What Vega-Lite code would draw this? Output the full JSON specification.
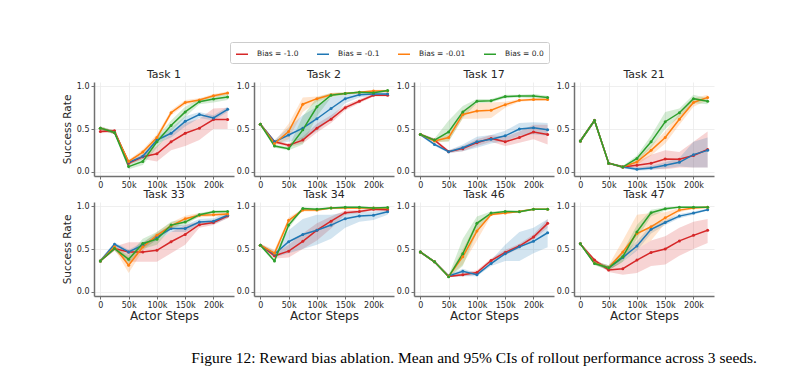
{
"$schema":"https://vega.github.io/schema/vega-lite/v6.json",
"background":"white",
"padding":{"left":62,"top":41,"right":5,"bottom":5},
"title":{"text":"Figure 12: Reward bias ablation. Mean and 95% CIs of rollout performance across 3 seeds.","orient":"bottom","font":"Liberation Serif","fontSize":15.5,"fontWeight":"normal","color":"black","offset":30,"anchor":"middle","dx":86},
"data":{"values":[
{"t":1,"b":"-1.0","x":0,"y":0.47,"lo":0.45,"hi":0.49},{"t":1,"b":"-1.0","x":25,"y":0.48,"lo":0.46,"hi":0.50},{"t":1,"b":"-1.0","x":50,"y":0.10,"lo":0.08,"hi":0.12},{"t":1,"b":"-1.0","x":75,"y":0.175,"lo":0.15,"hi":0.20},{"t":1,"b":"-1.0","x":100,"y":0.21,"lo":0.12,"hi":0.30},{"t":1,"b":"-1.0","x":125,"y":0.35,"lo":0.25,"hi":0.45},{"t":1,"b":"-1.0","x":150,"y":0.45,"lo":0.30,"hi":0.57},{"t":1,"b":"-1.0","x":175,"y":0.51,"lo":0.37,"hi":0.62},{"t":1,"b":"-1.0","x":200,"y":0.61,"lo":0.50,"hi":0.74},{"t":1,"b":"-1.0","x":225,"y":0.61,"lo":0.50,"hi":0.75},
{"t":1,"b":"-0.1","x":0,"y":0.51,"lo":0.49,"hi":0.53},{"t":1,"b":"-0.1","x":25,"y":0.46,"lo":0.44,"hi":0.48},{"t":1,"b":"-0.1","x":50,"y":0.11,"lo":0.09,"hi":0.13},{"t":1,"b":"-0.1","x":75,"y":0.18,"lo":0.15,"hi":0.21},{"t":1,"b":"-0.1","x":100,"y":0.37,"lo":0.33,"hi":0.41},{"t":1,"b":"-0.1","x":125,"y":0.45,"lo":0.40,"hi":0.51},{"t":1,"b":"-0.1","x":150,"y":0.59,"lo":0.53,"hi":0.65},{"t":1,"b":"-0.1","x":175,"y":0.67,"lo":0.63,"hi":0.70},{"t":1,"b":"-0.1","x":200,"y":0.63,"lo":0.60,"hi":0.66},{"t":1,"b":"-0.1","x":225,"y":0.73,"lo":0.70,"hi":0.76},
{"t":1,"b":"-0.01","x":0,"y":0.51,"lo":0.49,"hi":0.53},{"t":1,"b":"-0.01","x":25,"y":0.46,"lo":0.44,"hi":0.48},{"t":1,"b":"-0.01","x":50,"y":0.12,"lo":0.10,"hi":0.14},{"t":1,"b":"-0.01","x":75,"y":0.23,"lo":0.20,"hi":0.26},{"t":1,"b":"-0.01","x":100,"y":0.40,"lo":0.36,"hi":0.44},{"t":1,"b":"-0.01","x":125,"y":0.69,"lo":0.66,"hi":0.72},{"t":1,"b":"-0.01","x":150,"y":0.81,"lo":0.78,"hi":0.84},{"t":1,"b":"-0.01","x":175,"y":0.84,"lo":0.82,"hi":0.86},{"t":1,"b":"-0.01","x":200,"y":0.89,"lo":0.87,"hi":0.91},{"t":1,"b":"-0.01","x":225,"y":0.92,"lo":0.90,"hi":0.94},
{"t":1,"b":"0.0","x":0,"y":0.51,"lo":0.49,"hi":0.53},{"t":1,"b":"0.0","x":25,"y":0.46,"lo":0.44,"hi":0.48},{"t":1,"b":"0.0","x":50,"y":0.06,"lo":0.03,"hi":0.09},{"t":1,"b":"0.0","x":75,"y":0.12,"lo":0.08,"hi":0.16},{"t":1,"b":"0.0","x":100,"y":0.35,"lo":0.28,"hi":0.41},{"t":1,"b":"0.0","x":125,"y":0.54,"lo":0.47,"hi":0.60},{"t":1,"b":"0.0","x":150,"y":0.70,"lo":0.64,"hi":0.76},{"t":1,"b":"0.0","x":175,"y":0.82,"lo":0.79,"hi":0.85},{"t":1,"b":"0.0","x":200,"y":0.85,"lo":0.81,"hi":0.89},{"t":1,"b":"0.0","x":225,"y":0.875,"lo":0.84,"hi":0.91},

{"t":2,"b":"-1.0","x":0,"y":0.556,"lo":0.54,"hi":0.57},{"t":2,"b":"-1.0","x":25,"y":0.35,"lo":0.33,"hi":0.37},{"t":2,"b":"-1.0","x":50,"y":0.31,"lo":0.29,"hi":0.33},{"t":2,"b":"-1.0","x":75,"y":0.37,"lo":0.33,"hi":0.41},{"t":2,"b":"-1.0","x":100,"y":0.51,"lo":0.46,"hi":0.56},{"t":2,"b":"-1.0","x":125,"y":0.615,"lo":0.57,"hi":0.66},{"t":2,"b":"-1.0","x":150,"y":0.75,"lo":0.72,"hi":0.78},{"t":2,"b":"-1.0","x":175,"y":0.825,"lo":0.80,"hi":0.85},{"t":2,"b":"-1.0","x":200,"y":0.895,"lo":0.88,"hi":0.91},{"t":2,"b":"-1.0","x":225,"y":0.895,"lo":0.88,"hi":0.91},
{"t":2,"b":"-0.1","x":0,"y":0.556,"lo":0.54,"hi":0.57},{"t":2,"b":"-0.1","x":25,"y":0.35,"lo":0.33,"hi":0.37},{"t":2,"b":"-0.1","x":50,"y":0.43,"lo":0.35,"hi":0.52},{"t":2,"b":"-0.1","x":75,"y":0.51,"lo":0.38,"hi":0.66},{"t":2,"b":"-0.1","x":100,"y":0.62,"lo":0.48,"hi":0.76},{"t":2,"b":"-0.1","x":125,"y":0.74,"lo":0.62,"hi":0.87},{"t":2,"b":"-0.1","x":150,"y":0.855,"lo":0.80,"hi":0.90},{"t":2,"b":"-0.1","x":175,"y":0.90,"lo":0.87,"hi":0.93},{"t":2,"b":"-0.1","x":200,"y":0.91,"lo":0.89,"hi":0.93},{"t":2,"b":"-0.1","x":225,"y":0.91,"lo":0.89,"hi":0.93},
{"t":2,"b":"-0.01","x":0,"y":0.556,"lo":0.54,"hi":0.57},{"t":2,"b":"-0.01","x":25,"y":0.33,"lo":0.31,"hi":0.35},{"t":2,"b":"-0.01","x":50,"y":0.47,"lo":0.38,"hi":0.56},{"t":2,"b":"-0.01","x":75,"y":0.79,"lo":0.70,"hi":0.87},{"t":2,"b":"-0.01","x":100,"y":0.855,"lo":0.82,"hi":0.88},{"t":2,"b":"-0.01","x":125,"y":0.90,"lo":0.88,"hi":0.92},{"t":2,"b":"-0.01","x":150,"y":0.915,"lo":0.90,"hi":0.93},{"t":2,"b":"-0.01","x":175,"y":0.93,"lo":0.92,"hi":0.94},{"t":2,"b":"-0.01","x":200,"y":0.945,"lo":0.93,"hi":0.96},{"t":2,"b":"-0.01","x":225,"y":0.945,"lo":0.93,"hi":0.96},
{"t":2,"b":"0.0","x":0,"y":0.556,"lo":0.54,"hi":0.57},{"t":2,"b":"0.0","x":25,"y":0.30,"lo":0.28,"hi":0.32},{"t":2,"b":"0.0","x":50,"y":0.27,"lo":0.25,"hi":0.29},{"t":2,"b":"0.0","x":75,"y":0.49,"lo":0.32,"hi":0.65},{"t":2,"b":"0.0","x":100,"y":0.76,"lo":0.65,"hi":0.87},{"t":2,"b":"0.0","x":125,"y":0.895,"lo":0.87,"hi":0.92},{"t":2,"b":"0.0","x":150,"y":0.915,"lo":0.90,"hi":0.93},{"t":2,"b":"0.0","x":175,"y":0.93,"lo":0.92,"hi":0.94},{"t":2,"b":"0.0","x":200,"y":0.925,"lo":0.91,"hi":0.94},{"t":2,"b":"0.0","x":225,"y":0.95,"lo":0.94,"hi":0.96},

{"t":17,"b":"-1.0","x":0,"y":0.435,"lo":0.42,"hi":0.45},{"t":17,"b":"-1.0","x":25,"y":0.37,"lo":0.35,"hi":0.39},{"t":17,"b":"-1.0","x":50,"y":0.235,"lo":0.22,"hi":0.25},{"t":17,"b":"-1.0","x":75,"y":0.27,"lo":0.24,"hi":0.30},{"t":17,"b":"-1.0","x":100,"y":0.34,"lo":0.30,"hi":0.38},{"t":17,"b":"-1.0","x":125,"y":0.39,"lo":0.35,"hi":0.43},{"t":17,"b":"-1.0","x":150,"y":0.35,"lo":0.30,"hi":0.41},{"t":17,"b":"-1.0","x":175,"y":0.40,"lo":0.34,"hi":0.47},{"t":17,"b":"-1.0","x":200,"y":0.465,"lo":0.38,"hi":0.55},{"t":17,"b":"-1.0","x":225,"y":0.435,"lo":0.32,"hi":0.55},
{"t":17,"b":"-0.1","x":0,"y":0.435,"lo":0.42,"hi":0.45},{"t":17,"b":"-0.1","x":25,"y":0.32,"lo":0.30,"hi":0.34},{"t":17,"b":"-0.1","x":50,"y":0.235,"lo":0.22,"hi":0.25},{"t":17,"b":"-0.1","x":75,"y":0.28,"lo":0.24,"hi":0.32},{"t":17,"b":"-0.1","x":100,"y":0.35,"lo":0.28,"hi":0.41},{"t":17,"b":"-0.1","x":125,"y":0.38,"lo":0.33,"hi":0.43},{"t":17,"b":"-0.1","x":150,"y":0.42,"lo":0.36,"hi":0.48},{"t":17,"b":"-0.1","x":175,"y":0.50,"lo":0.42,"hi":0.57},{"t":17,"b":"-0.1","x":200,"y":0.515,"lo":0.44,"hi":0.58},{"t":17,"b":"-0.1","x":225,"y":0.49,"lo":0.42,"hi":0.57},
{"t":17,"b":"-0.01","x":0,"y":0.435,"lo":0.42,"hi":0.45},{"t":17,"b":"-0.01","x":25,"y":0.36,"lo":0.34,"hi":0.38},{"t":17,"b":"-0.01","x":50,"y":0.40,"lo":0.36,"hi":0.44},{"t":17,"b":"-0.01","x":75,"y":0.67,"lo":0.62,"hi":0.72},{"t":17,"b":"-0.01","x":100,"y":0.71,"lo":0.62,"hi":0.80},{"t":17,"b":"-0.01","x":125,"y":0.72,"lo":0.63,"hi":0.81},{"t":17,"b":"-0.01","x":150,"y":0.785,"lo":0.75,"hi":0.82},{"t":17,"b":"-0.01","x":175,"y":0.835,"lo":0.82,"hi":0.85},{"t":17,"b":"-0.01","x":200,"y":0.845,"lo":0.83,"hi":0.86},{"t":17,"b":"-0.01","x":225,"y":0.845,"lo":0.83,"hi":0.86},
{"t":17,"b":"0.0","x":0,"y":0.435,"lo":0.42,"hi":0.45},{"t":17,"b":"0.0","x":25,"y":0.37,"lo":0.35,"hi":0.39},{"t":17,"b":"0.0","x":50,"y":0.465,"lo":0.35,"hi":0.60},{"t":17,"b":"0.0","x":75,"y":0.70,"lo":0.63,"hi":0.77},{"t":17,"b":"0.0","x":100,"y":0.825,"lo":0.80,"hi":0.85},{"t":17,"b":"0.0","x":125,"y":0.83,"lo":0.81,"hi":0.85},{"t":17,"b":"0.0","x":150,"y":0.88,"lo":0.86,"hi":0.90},{"t":17,"b":"0.0","x":175,"y":0.885,"lo":0.87,"hi":0.90},{"t":17,"b":"0.0","x":200,"y":0.885,"lo":0.86,"hi":0.91},{"t":17,"b":"0.0","x":225,"y":0.87,"lo":0.85,"hi":0.89},

{"t":21,"b":"-1.0","x":0,"y":0.36,"lo":0.34,"hi":0.38},{"t":21,"b":"-1.0","x":25,"y":0.60,"lo":0.58,"hi":0.62},{"t":21,"b":"-1.0","x":50,"y":0.10,"lo":0.09,"hi":0.11},{"t":21,"b":"-1.0","x":75,"y":0.055,"lo":0.04,"hi":0.07},{"t":21,"b":"-1.0","x":100,"y":0.075,"lo":0.03,"hi":0.12},{"t":21,"b":"-1.0","x":125,"y":0.10,"lo":0.03,"hi":0.20},{"t":21,"b":"-1.0","x":150,"y":0.15,"lo":0.03,"hi":0.25},{"t":21,"b":"-1.0","x":175,"y":0.145,"lo":0.05,"hi":0.23},{"t":21,"b":"-1.0","x":200,"y":0.19,"lo":0.05,"hi":0.35},{"t":21,"b":"-1.0","x":225,"y":0.26,"lo":0.05,"hi":0.47},
{"t":21,"b":"-0.1","x":0,"y":0.36,"lo":0.34,"hi":0.38},{"t":21,"b":"-0.1","x":25,"y":0.60,"lo":0.58,"hi":0.62},{"t":21,"b":"-0.1","x":50,"y":0.10,"lo":0.09,"hi":0.11},{"t":21,"b":"-0.1","x":75,"y":0.055,"lo":0.04,"hi":0.07},{"t":21,"b":"-0.1","x":100,"y":0.03,"lo":0.01,"hi":0.05},{"t":21,"b":"-0.1","x":125,"y":0.045,"lo":0.02,"hi":0.07},{"t":21,"b":"-0.1","x":150,"y":0.075,"lo":0.04,"hi":0.11},{"t":21,"b":"-0.1","x":175,"y":0.11,"lo":0.06,"hi":0.16},{"t":21,"b":"-0.1","x":200,"y":0.20,"lo":0.05,"hi":0.35},{"t":21,"b":"-0.1","x":225,"y":0.25,"lo":0.05,"hi":0.40},
{"t":21,"b":"-0.01","x":0,"y":0.36,"lo":0.34,"hi":0.38},{"t":21,"b":"-0.01","x":25,"y":0.60,"lo":0.58,"hi":0.62},{"t":21,"b":"-0.01","x":50,"y":0.10,"lo":0.09,"hi":0.11},{"t":21,"b":"-0.01","x":75,"y":0.055,"lo":0.04,"hi":0.07},{"t":21,"b":"-0.01","x":100,"y":0.115,"lo":0.08,"hi":0.15},{"t":21,"b":"-0.01","x":125,"y":0.25,"lo":0.19,"hi":0.31},{"t":21,"b":"-0.01","x":150,"y":0.40,"lo":0.33,"hi":0.47},{"t":21,"b":"-0.01","x":175,"y":0.615,"lo":0.55,"hi":0.68},{"t":21,"b":"-0.01","x":200,"y":0.81,"lo":0.76,"hi":0.86},{"t":21,"b":"-0.01","x":225,"y":0.87,"lo":0.84,"hi":0.90},
{"t":21,"b":"0.0","x":0,"y":0.36,"lo":0.34,"hi":0.38},{"t":21,"b":"0.0","x":25,"y":0.60,"lo":0.58,"hi":0.62},{"t":21,"b":"0.0","x":50,"y":0.10,"lo":0.09,"hi":0.11},{"t":21,"b":"0.0","x":75,"y":0.055,"lo":0.04,"hi":0.07},{"t":21,"b":"0.0","x":100,"y":0.155,"lo":0.12,"hi":0.19},{"t":21,"b":"0.0","x":125,"y":0.35,"lo":0.28,"hi":0.42},{"t":21,"b":"0.0","x":150,"y":0.585,"lo":0.50,"hi":0.70},{"t":21,"b":"0.0","x":175,"y":0.69,"lo":0.64,"hi":0.74},{"t":21,"b":"0.0","x":200,"y":0.855,"lo":0.80,"hi":0.90},{"t":21,"b":"0.0","x":225,"y":0.825,"lo":0.79,"hi":0.86},

{"t":33,"b":"-1.0","x":0,"y":0.36,"lo":0.35,"hi":0.38},{"t":33,"b":"-1.0","x":25,"y":0.505,"lo":0.48,"hi":0.53},{"t":33,"b":"-1.0","x":50,"y":0.465,"lo":0.35,"hi":0.58},{"t":33,"b":"-1.0","x":75,"y":0.465,"lo":0.35,"hi":0.58},{"t":33,"b":"-1.0","x":100,"y":0.485,"lo":0.35,"hi":0.60},{"t":33,"b":"-1.0","x":125,"y":0.585,"lo":0.45,"hi":0.70},{"t":33,"b":"-1.0","x":150,"y":0.67,"lo":0.55,"hi":0.78},{"t":33,"b":"-1.0","x":175,"y":0.785,"lo":0.75,"hi":0.82},{"t":33,"b":"-1.0","x":200,"y":0.81,"lo":0.78,"hi":0.84},{"t":33,"b":"-1.0","x":225,"y":0.885,"lo":0.86,"hi":0.91},
{"t":33,"b":"-0.1","x":0,"y":0.36,"lo":0.35,"hi":0.38},{"t":33,"b":"-0.1","x":25,"y":0.555,"lo":0.53,"hi":0.58},{"t":33,"b":"-0.1","x":50,"y":0.465,"lo":0.44,"hi":0.49},{"t":33,"b":"-0.1","x":75,"y":0.545,"lo":0.51,"hi":0.58},{"t":33,"b":"-0.1","x":100,"y":0.64,"lo":0.60,"hi":0.68},{"t":33,"b":"-0.1","x":125,"y":0.74,"lo":0.70,"hi":0.78},{"t":33,"b":"-0.1","x":150,"y":0.74,"lo":0.70,"hi":0.78},{"t":33,"b":"-0.1","x":175,"y":0.815,"lo":0.78,"hi":0.85},{"t":33,"b":"-0.1","x":200,"y":0.825,"lo":0.79,"hi":0.86},{"t":33,"b":"-0.1","x":225,"y":0.895,"lo":0.86,"hi":0.93},
{"t":33,"b":"-0.01","x":0,"y":0.36,"lo":0.35,"hi":0.38},{"t":33,"b":"-0.01","x":25,"y":0.525,"lo":0.50,"hi":0.55},{"t":33,"b":"-0.01","x":50,"y":0.31,"lo":0.22,"hi":0.40},{"t":33,"b":"-0.01","x":75,"y":0.525,"lo":0.48,"hi":0.57},{"t":33,"b":"-0.01","x":100,"y":0.66,"lo":0.62,"hi":0.70},{"t":33,"b":"-0.01","x":125,"y":0.77,"lo":0.73,"hi":0.81},{"t":33,"b":"-0.01","x":150,"y":0.855,"lo":0.82,"hi":0.89},{"t":33,"b":"-0.01","x":175,"y":0.895,"lo":0.87,"hi":0.92},{"t":33,"b":"-0.01","x":200,"y":0.90,"lo":0.88,"hi":0.92},{"t":33,"b":"-0.01","x":225,"y":0.91,"lo":0.89,"hi":0.93},
{"t":33,"b":"0.0","x":0,"y":0.36,"lo":0.35,"hi":0.38},{"t":33,"b":"0.0","x":25,"y":0.505,"lo":0.48,"hi":0.53},{"t":33,"b":"0.0","x":50,"y":0.38,"lo":0.33,"hi":0.43},{"t":33,"b":"0.0","x":75,"y":0.565,"lo":0.50,"hi":0.62},{"t":33,"b":"0.0","x":100,"y":0.615,"lo":0.55,"hi":0.70},{"t":33,"b":"0.0","x":125,"y":0.78,"lo":0.74,"hi":0.82},{"t":33,"b":"0.0","x":150,"y":0.815,"lo":0.78,"hi":0.85},{"t":33,"b":"0.0","x":175,"y":0.90,"lo":0.88,"hi":0.92},{"t":33,"b":"0.0","x":200,"y":0.935,"lo":0.92,"hi":0.95},{"t":33,"b":"0.0","x":225,"y":0.94,"lo":0.93,"hi":0.95},

{"t":34,"b":"-1.0","x":0,"y":0.545,"lo":0.53,"hi":0.56},{"t":34,"b":"-1.0","x":25,"y":0.42,"lo":0.39,"hi":0.45},{"t":34,"b":"-1.0","x":50,"y":0.475,"lo":0.40,"hi":0.55},{"t":34,"b":"-1.0","x":75,"y":0.59,"lo":0.50,"hi":0.68},{"t":34,"b":"-1.0","x":100,"y":0.72,"lo":0.60,"hi":0.80},{"t":34,"b":"-1.0","x":125,"y":0.825,"lo":0.74,"hi":0.88},{"t":34,"b":"-1.0","x":150,"y":0.925,"lo":0.90,"hi":0.95},{"t":34,"b":"-1.0","x":175,"y":0.94,"lo":0.92,"hi":0.96},{"t":34,"b":"-1.0","x":200,"y":0.965,"lo":0.95,"hi":0.98},{"t":34,"b":"-1.0","x":225,"y":0.96,"lo":0.94,"hi":0.98},
{"t":34,"b":"-0.1","x":0,"y":0.545,"lo":0.53,"hi":0.56},{"t":34,"b":"-0.1","x":25,"y":0.44,"lo":0.40,"hi":0.48},{"t":34,"b":"-0.1","x":50,"y":0.585,"lo":0.45,"hi":0.72},{"t":34,"b":"-0.1","x":75,"y":0.67,"lo":0.50,"hi":0.85},{"t":34,"b":"-0.1","x":100,"y":0.72,"lo":0.55,"hi":0.90},{"t":34,"b":"-0.1","x":125,"y":0.78,"lo":0.62,"hi":0.90},{"t":34,"b":"-0.1","x":150,"y":0.855,"lo":0.75,"hi":0.93},{"t":34,"b":"-0.1","x":175,"y":0.885,"lo":0.82,"hi":0.94},{"t":34,"b":"-0.1","x":200,"y":0.895,"lo":0.84,"hi":0.94},{"t":34,"b":"-0.1","x":225,"y":0.935,"lo":0.90,"hi":0.96},
{"t":34,"b":"-0.01","x":0,"y":0.545,"lo":0.53,"hi":0.56},{"t":34,"b":"-0.01","x":25,"y":0.45,"lo":0.41,"hi":0.49},{"t":34,"b":"-0.01","x":50,"y":0.835,"lo":0.80,"hi":0.87},{"t":34,"b":"-0.01","x":75,"y":0.955,"lo":0.94,"hi":0.97},{"t":34,"b":"-0.01","x":100,"y":0.955,"lo":0.94,"hi":0.97},{"t":34,"b":"-0.01","x":125,"y":0.98,"lo":0.97,"hi":0.99},{"t":34,"b":"-0.01","x":150,"y":0.98,"lo":0.97,"hi":0.99},{"t":34,"b":"-0.01","x":175,"y":0.98,"lo":0.97,"hi":0.99},{"t":34,"b":"-0.01","x":200,"y":0.98,"lo":0.97,"hi":0.99},{"t":34,"b":"-0.01","x":225,"y":0.98,"lo":0.97,"hi":0.99},
{"t":34,"b":"0.0","x":0,"y":0.545,"lo":0.53,"hi":0.56},{"t":34,"b":"0.0","x":25,"y":0.36,"lo":0.34,"hi":0.38},{"t":34,"b":"0.0","x":50,"y":0.78,"lo":0.74,"hi":0.82},{"t":34,"b":"0.0","x":75,"y":0.975,"lo":0.96,"hi":0.99},{"t":34,"b":"0.0","x":100,"y":0.965,"lo":0.95,"hi":0.98},{"t":34,"b":"0.0","x":125,"y":0.98,"lo":0.97,"hi":0.99},{"t":34,"b":"0.0","x":150,"y":0.99,"lo":0.98,"hi":1.0},{"t":34,"b":"0.0","x":175,"y":0.99,"lo":0.98,"hi":1.0},{"t":34,"b":"0.0","x":200,"y":0.98,"lo":0.97,"hi":0.99},{"t":34,"b":"0.0","x":225,"y":0.985,"lo":0.975,"hi":0.995},

{"t":46,"b":"-1.0","x":0,"y":0.465,"lo":0.45,"hi":0.48},{"t":46,"b":"-1.0","x":25,"y":0.35,"lo":0.34,"hi":0.36},{"t":46,"b":"-1.0","x":50,"y":0.18,"lo":0.17,"hi":0.19},{"t":46,"b":"-1.0","x":75,"y":0.20,"lo":0.18,"hi":0.22},{"t":46,"b":"-1.0","x":100,"y":0.225,"lo":0.20,"hi":0.25},{"t":46,"b":"-1.0","x":125,"y":0.365,"lo":0.34,"hi":0.39},{"t":46,"b":"-1.0","x":150,"y":0.46,"lo":0.43,"hi":0.49},{"t":46,"b":"-1.0","x":175,"y":0.535,"lo":0.51,"hi":0.56},{"t":46,"b":"-1.0","x":200,"y":0.64,"lo":0.61,"hi":0.67},{"t":46,"b":"-1.0","x":225,"y":0.80,"lo":0.75,"hi":0.85},
{"t":46,"b":"-0.1","x":0,"y":0.465,"lo":0.45,"hi":0.48},{"t":46,"b":"-0.1","x":25,"y":0.35,"lo":0.34,"hi":0.36},{"t":46,"b":"-0.1","x":50,"y":0.185,"lo":0.17,"hi":0.20},{"t":46,"b":"-0.1","x":75,"y":0.24,"lo":0.18,"hi":0.27},{"t":46,"b":"-0.1","x":100,"y":0.20,"lo":0.18,"hi":0.22},{"t":46,"b":"-0.1","x":125,"y":0.33,"lo":0.30,"hi":0.37},{"t":46,"b":"-0.1","x":150,"y":0.445,"lo":0.36,"hi":0.55},{"t":46,"b":"-0.1","x":175,"y":0.525,"lo":0.36,"hi":0.70},{"t":46,"b":"-0.1","x":200,"y":0.59,"lo":0.45,"hi":0.75},{"t":46,"b":"-0.1","x":225,"y":0.69,"lo":0.52,"hi":0.85},
{"t":46,"b":"-0.01","x":0,"y":0.465,"lo":0.45,"hi":0.48},{"t":46,"b":"-0.01","x":25,"y":0.35,"lo":0.34,"hi":0.36},{"t":46,"b":"-0.01","x":50,"y":0.18,"lo":0.17,"hi":0.19},{"t":46,"b":"-0.01","x":75,"y":0.41,"lo":0.32,"hi":0.50},{"t":46,"b":"-0.01","x":100,"y":0.71,"lo":0.60,"hi":0.82},{"t":46,"b":"-0.01","x":125,"y":0.905,"lo":0.89,"hi":0.92},{"t":46,"b":"-0.01","x":150,"y":0.92,"lo":0.91,"hi":0.93},{"t":46,"b":"-0.01","x":175,"y":0.94,"lo":0.93,"hi":0.95},{"t":46,"b":"-0.01","x":200,"y":0.965,"lo":0.955,"hi":0.975},{"t":46,"b":"-0.01","x":225,"y":0.965,"lo":0.955,"hi":0.975},
{"t":46,"b":"0.0","x":0,"y":0.465,"lo":0.45,"hi":0.48},{"t":46,"b":"0.0","x":25,"y":0.35,"lo":0.34,"hi":0.36},{"t":46,"b":"0.0","x":50,"y":0.175,"lo":0.16,"hi":0.19},{"t":46,"b":"0.0","x":75,"y":0.445,"lo":0.30,"hi":0.62},{"t":46,"b":"0.0","x":100,"y":0.80,"lo":0.70,"hi":0.88},{"t":46,"b":"0.0","x":125,"y":0.92,"lo":0.90,"hi":0.94},{"t":46,"b":"0.0","x":150,"y":0.94,"lo":0.93,"hi":0.95},{"t":46,"b":"0.0","x":175,"y":0.935,"lo":0.92,"hi":0.95},{"t":46,"b":"0.0","x":200,"y":0.965,"lo":0.955,"hi":0.975},{"t":46,"b":"0.0","x":225,"y":0.965,"lo":0.955,"hi":0.975},

{"t":47,"b":"-1.0","x":0,"y":0.56,"lo":0.55,"hi":0.57},{"t":47,"b":"-1.0","x":25,"y":0.37,"lo":0.35,"hi":0.39},{"t":47,"b":"-1.0","x":50,"y":0.255,"lo":0.23,"hi":0.28},{"t":47,"b":"-1.0","x":75,"y":0.27,"lo":0.20,"hi":0.35},{"t":47,"b":"-1.0","x":100,"y":0.37,"lo":0.22,"hi":0.50},{"t":47,"b":"-1.0","x":125,"y":0.46,"lo":0.30,"hi":0.60},{"t":47,"b":"-1.0","x":150,"y":0.50,"lo":0.32,"hi":0.65},{"t":47,"b":"-1.0","x":175,"y":0.595,"lo":0.42,"hi":0.75},{"t":47,"b":"-1.0","x":200,"y":0.66,"lo":0.50,"hi":0.82},{"t":47,"b":"-1.0","x":225,"y":0.72,"lo":0.57,"hi":0.85},
{"t":47,"b":"-0.1","x":0,"y":0.56,"lo":0.55,"hi":0.57},{"t":47,"b":"-0.1","x":25,"y":0.34,"lo":0.32,"hi":0.36},{"t":47,"b":"-0.1","x":50,"y":0.28,"lo":0.25,"hi":0.31},{"t":47,"b":"-0.1","x":75,"y":0.40,"lo":0.35,"hi":0.45},{"t":47,"b":"-0.1","x":100,"y":0.535,"lo":0.48,"hi":0.59},{"t":47,"b":"-0.1","x":125,"y":0.73,"lo":0.68,"hi":0.78},{"t":47,"b":"-0.1","x":150,"y":0.81,"lo":0.78,"hi":0.84},{"t":47,"b":"-0.1","x":175,"y":0.885,"lo":0.86,"hi":0.91},{"t":47,"b":"-0.1","x":200,"y":0.92,"lo":0.90,"hi":0.94},{"t":47,"b":"-0.1","x":225,"y":0.96,"lo":0.95,"hi":0.97},
{"t":47,"b":"-0.01","x":0,"y":0.56,"lo":0.55,"hi":0.57},{"t":47,"b":"-0.01","x":25,"y":0.34,"lo":0.32,"hi":0.36},{"t":47,"b":"-0.01","x":50,"y":0.28,"lo":0.25,"hi":0.31},{"t":47,"b":"-0.01","x":75,"y":0.465,"lo":0.35,"hi":0.60},{"t":47,"b":"-0.01","x":100,"y":0.68,"lo":0.50,"hi":0.90},{"t":47,"b":"-0.01","x":125,"y":0.76,"lo":0.60,"hi":0.92},{"t":47,"b":"-0.01","x":150,"y":0.865,"lo":0.80,"hi":0.93},{"t":47,"b":"-0.01","x":175,"y":0.955,"lo":0.93,"hi":0.98},{"t":47,"b":"-0.01","x":200,"y":0.98,"lo":0.97,"hi":0.99},{"t":47,"b":"-0.01","x":225,"y":0.99,"lo":0.98,"hi":1.0},
{"t":47,"b":"0.0","x":0,"y":0.56,"lo":0.55,"hi":0.57},{"t":47,"b":"0.0","x":25,"y":0.33,"lo":0.31,"hi":0.35},{"t":47,"b":"0.0","x":50,"y":0.28,"lo":0.25,"hi":0.31},{"t":47,"b":"0.0","x":75,"y":0.41,"lo":0.35,"hi":0.47},{"t":47,"b":"0.0","x":100,"y":0.70,"lo":0.62,"hi":0.78},{"t":47,"b":"0.0","x":125,"y":0.925,"lo":0.88,"hi":0.96},{"t":47,"b":"0.0","x":150,"y":0.97,"lo":0.95,"hi":0.99},{"t":47,"b":"0.0","x":175,"y":0.99,"lo":0.98,"hi":1.0},{"t":47,"b":"0.0","x":200,"y":0.99,"lo":0.98,"hi":1.0},{"t":47,"b":"0.0","x":225,"y":0.99,"lo":0.98,"hi":1.0}
]},
"columns":4,
"spacing":{"row":26,"column":20},
"bounds":"flush",
"concat":[
{"title":"Task 1","width":140,"height":94,"transform":[{"filter":"datum.t==1"}],
 "encoding":{"x":{"field":"x","type":"quantitative","scale":{"domain":[-11.25,236.25],"nice":false,"zero":false},"axis":{"values":[0,50,100,150,200],"labelExpr":"datum.value==0?'0':datum.value+'k'","title":null}},
  "color":{"field":"b","type":"nominal","scale":{"domain":["-1.0","-0.1","-0.01","0.0"],"range":["#d62728","#1f77b4","#ff7f0e","#2ca02c"]},"legend":{"orient":"none","legendX":136,"legendY":-40,"direction":"horizontal","title":null,"symbolType":"stroke","symbolOpacity":1,"labelExpr":"'Bias = ' + datum.label"}}},
 "layer":[
  {"mark":{"type":"area","opacity":0.2},"encoding":{"y":{"field":"lo","type":"quantitative","scale":{"domain":[-0.05,1.05],"nice":false,"zero":false},"axis":{"values":[0,0.5,1],"format":".1f","title":"Success Rate"}},"y2":{"field":"hi"}}},
  {"mark":{"type":"line","strokeWidth":1.5,"point":{"filled":true,"size":9}},"encoding":{"y":{"field":"y","type":"quantitative","axis":{"values":[0,0.5,1],"format":".1f","title":"Success Rate"}}}}
 ]},
{"title":"Task 2","width":140,"height":94,"transform":[{"filter":"datum.t==2"}],
 "encoding":{"x":{"field":"x","type":"quantitative","scale":{"domain":[-11.25,236.25],"nice":false,"zero":false},"axis":{"values":[0,50,100,150,200],"labelExpr":"datum.value==0?'0':datum.value+'k'","title":null}},
  "color":{"field":"b","type":"nominal","scale":{"domain":["-1.0","-0.1","-0.01","0.0"],"range":["#d62728","#1f77b4","#ff7f0e","#2ca02c"]},"legend":{"orient":"none","legendX":136,"legendY":-40,"direction":"horizontal","title":null,"symbolType":"stroke","symbolOpacity":1,"labelExpr":"'Bias = ' + datum.label"}}},
 "layer":[
  {"mark":{"type":"area","opacity":0.2},"encoding":{"y":{"field":"lo","type":"quantitative","scale":{"domain":[-0.05,1.05],"nice":false,"zero":false},"axis":{"values":[0,0.5,1],"format":".1f","title":null}},"y2":{"field":"hi"}}},
  {"mark":{"type":"line","strokeWidth":1.5,"point":{"filled":true,"size":9}},"encoding":{"y":{"field":"y","type":"quantitative","axis":{"values":[0,0.5,1],"format":".1f","title":null}}}}
 ]},
{"title":"Task 17","width":140,"height":94,"transform":[{"filter":"datum.t==17"}],
 "encoding":{"x":{"field":"x","type":"quantitative","scale":{"domain":[-11.25,236.25],"nice":false,"zero":false},"axis":{"values":[0,50,100,150,200],"labelExpr":"datum.value==0?'0':datum.value+'k'","title":null}},
  "color":{"field":"b","type":"nominal","scale":{"domain":["-1.0","-0.1","-0.01","0.0"],"range":["#d62728","#1f77b4","#ff7f0e","#2ca02c"]},"legend":{"orient":"none","legendX":136,"legendY":-40,"direction":"horizontal","title":null,"symbolType":"stroke","symbolOpacity":1,"labelExpr":"'Bias = ' + datum.label"}}},
 "layer":[
  {"mark":{"type":"area","opacity":0.2},"encoding":{"y":{"field":"lo","type":"quantitative","scale":{"domain":[-0.05,1.05],"nice":false,"zero":false},"axis":{"values":[0,0.5,1],"format":".1f","title":null}},"y2":{"field":"hi"}}},
  {"mark":{"type":"line","strokeWidth":1.5,"point":{"filled":true,"size":9}},"encoding":{"y":{"field":"y","type":"quantitative","axis":{"values":[0,0.5,1],"format":".1f","title":null}}}}
 ]},
{"title":"Task 21","width":140,"height":94,"transform":[{"filter":"datum.t==21"}],
 "encoding":{"x":{"field":"x","type":"quantitative","scale":{"domain":[-11.25,236.25],"nice":false,"zero":false},"axis":{"values":[0,50,100,150,200],"labelExpr":"datum.value==0?'0':datum.value+'k'","title":null}},
  "color":{"field":"b","type":"nominal","scale":{"domain":["-1.0","-0.1","-0.01","0.0"],"range":["#d62728","#1f77b4","#ff7f0e","#2ca02c"]},"legend":{"orient":"none","legendX":136,"legendY":-40,"direction":"horizontal","title":null,"symbolType":"stroke","symbolOpacity":1,"labelExpr":"'Bias = ' + datum.label"}}},
 "layer":[
  {"mark":{"type":"area","opacity":0.2},"encoding":{"y":{"field":"lo","type":"quantitative","scale":{"domain":[-0.05,1.05],"nice":false,"zero":false},"axis":{"values":[0,0.5,1],"format":".1f","title":null}},"y2":{"field":"hi"}}},
  {"mark":{"type":"line","strokeWidth":1.5,"point":{"filled":true,"size":9}},"encoding":{"y":{"field":"y","type":"quantitative","axis":{"values":[0,0.5,1],"format":".1f","title":null}}}}
 ]},
{"title":"Task 33","width":140,"height":94,"transform":[{"filter":"datum.t==33"}],
 "encoding":{"x":{"field":"x","type":"quantitative","scale":{"domain":[-11.25,236.25],"nice":false,"zero":false},"axis":{"values":[0,50,100,150,200],"labelExpr":"datum.value==0?'0':datum.value+'k'","title":"Actor Steps"}},
  "color":{"field":"b","type":"nominal","scale":{"domain":["-1.0","-0.1","-0.01","0.0"],"range":["#d62728","#1f77b4","#ff7f0e","#2ca02c"]},"legend":{"orient":"none","legendX":136,"legendY":-40,"direction":"horizontal","title":null,"symbolType":"stroke","symbolOpacity":1,"labelExpr":"'Bias = ' + datum.label"}}},
 "layer":[
  {"mark":{"type":"area","opacity":0.2},"encoding":{"y":{"field":"lo","type":"quantitative","scale":{"domain":[-0.05,1.05],"nice":false,"zero":false},"axis":{"values":[0,0.5,1],"format":".1f","title":"Success Rate"}},"y2":{"field":"hi"}}},
  {"mark":{"type":"line","strokeWidth":1.5,"point":{"filled":true,"size":9}},"encoding":{"y":{"field":"y","type":"quantitative","axis":{"values":[0,0.5,1],"format":".1f","title":"Success Rate"}}}}
 ]},
{"title":"Task 34","width":140,"height":94,"transform":[{"filter":"datum.t==34"}],
 "encoding":{"x":{"field":"x","type":"quantitative","scale":{"domain":[-11.25,236.25],"nice":false,"zero":false},"axis":{"values":[0,50,100,150,200],"labelExpr":"datum.value==0?'0':datum.value+'k'","title":"Actor Steps"}},
  "color":{"field":"b","type":"nominal","scale":{"domain":["-1.0","-0.1","-0.01","0.0"],"range":["#d62728","#1f77b4","#ff7f0e","#2ca02c"]},"legend":{"orient":"none","legendX":136,"legendY":-40,"direction":"horizontal","title":null,"symbolType":"stroke","symbolOpacity":1,"labelExpr":"'Bias = ' + datum.label"}}},
 "layer":[
  {"mark":{"type":"area","opacity":0.2},"encoding":{"y":{"field":"lo","type":"quantitative","scale":{"domain":[-0.05,1.05],"nice":false,"zero":false},"axis":{"values":[0,0.5,1],"format":".1f","title":null}},"y2":{"field":"hi"}}},
  {"mark":{"type":"line","strokeWidth":1.5,"point":{"filled":true,"size":9}},"encoding":{"y":{"field":"y","type":"quantitative","axis":{"values":[0,0.5,1],"format":".1f","title":null}}}}
 ]},
{"title":"Task 46","width":140,"height":94,"transform":[{"filter":"datum.t==46"}],
 "encoding":{"x":{"field":"x","type":"quantitative","scale":{"domain":[-11.25,236.25],"nice":false,"zero":false},"axis":{"values":[0,50,100,150,200],"labelExpr":"datum.value==0?'0':datum.value+'k'","title":"Actor Steps"}},
  "color":{"field":"b","type":"nominal","scale":{"domain":["-1.0","-0.1","-0.01","0.0"],"range":["#d62728","#1f77b4","#ff7f0e","#2ca02c"]},"legend":{"orient":"none","legendX":136,"legendY":-40,"direction":"horizontal","title":null,"symbolType":"stroke","symbolOpacity":1,"labelExpr":"'Bias = ' + datum.label"}}},
 "layer":[
  {"mark":{"type":"area","opacity":0.2},"encoding":{"y":{"field":"lo","type":"quantitative","scale":{"domain":[-0.05,1.05],"nice":false,"zero":false},"axis":{"values":[0,0.5,1],"format":".1f","title":null}},"y2":{"field":"hi"}}},
  {"mark":{"type":"line","strokeWidth":1.5,"point":{"filled":true,"size":9}},"encoding":{"y":{"field":"y","type":"quantitative","axis":{"values":[0,0.5,1],"format":".1f","title":null}}}}
 ]},
{"title":"Task 47","width":140,"height":94,"transform":[{"filter":"datum.t==47"}],
 "encoding":{"x":{"field":"x","type":"quantitative","scale":{"domain":[-11.25,236.25],"nice":false,"zero":false},"axis":{"values":[0,50,100,150,200],"labelExpr":"datum.value==0?'0':datum.value+'k'","title":"Actor Steps"}},
  "color":{"field":"b","type":"nominal","scale":{"domain":["-1.0","-0.1","-0.01","0.0"],"range":["#d62728","#1f77b4","#ff7f0e","#2ca02c"]},"legend":{"orient":"none","legendX":136,"legendY":-40,"direction":"horizontal","title":null,"symbolType":"stroke","symbolOpacity":1,"labelExpr":"'Bias = ' + datum.label"}}},
 "layer":[
  {"mark":{"type":"area","opacity":0.2},"encoding":{"y":{"field":"lo","type":"quantitative","scale":{"domain":[-0.05,1.05],"nice":false,"zero":false},"axis":{"values":[0,0.5,1],"format":".1f","title":null}},"y2":{"field":"hi"}}},
  {"mark":{"type":"line","strokeWidth":1.5,"point":{"filled":true,"size":9}},"encoding":{"y":{"field":"y","type":"quantitative","axis":{"values":[0,0.5,1],"format":".1f","title":null}}}}
 ]}
],
"config":{
 "font":"DejaVu Sans",
 "view":{"stroke":null},
 "axis":{"labelFont":"DejaVu Sans","labelFontSize":8,"labelColor":"#262626","titleFont":"DejaVu Sans","titleFontWeight":"normal","titleColor":"#262626","domainColor":"#707070","domainWidth":1.5,"tickColor":"#707070","tickSize":3,"gridColor":"#ebebeb","gridWidth":0.8,"labelPadding":2},
 "axisY":{"titleFontSize":10.5,"titlePadding":4},
 "axisX":{"titleFontSize":12,"titlePadding":1},
 "title":{"font":"DejaVu Sans","fontSize":11,"fontWeight":"normal","offset":2,"color":"#262626"},
 "legend":{"labelFont":"DejaVu Sans","labelFontSize":7.5,"labelColor":"#262626","symbolSize":144,"symbolStrokeWidth":1.5,"strokeColor":"#cccccc","cornerRadius":2,"padding":5,"columnPadding":15,"labelOffset":8,"fillColor":"white"}
}
}
